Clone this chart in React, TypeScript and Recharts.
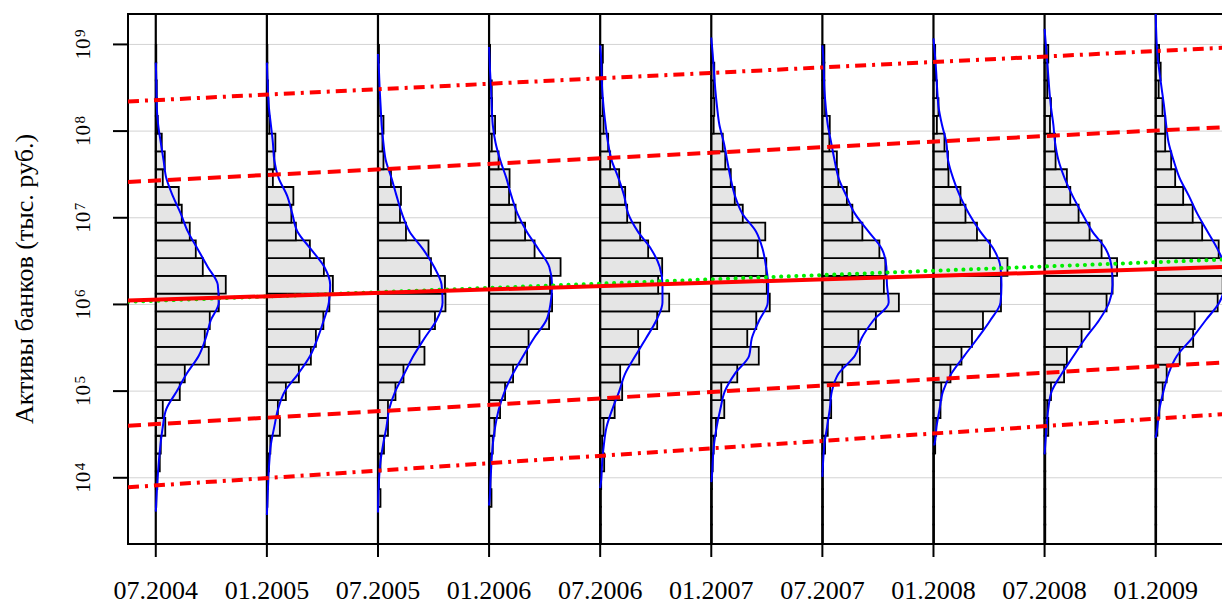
import {
  ComposedChart,
  Line,
  XAxis,
  YAxis,
  CartesianGrid,
  ReferenceArea,
  ReferenceLine,
} from 'recharts'

// dates of the cross-sections (x = index)
const dates = [
  '07.2004', '01.2005', '07.2005', '01.2006', '07.2006',
  '01.2007', '07.2007', '01.2008', '07.2008', '01.2009',
]
const logTicks = [4, 5, 6, 7, 8, 9]

// histogram bins in log10(assets), bottom edge of first bin and width
const binStart = 3.255
const binWidth = 0.205

// bar lengths per bin, bottom bin first (28 bins)
const hist0 = [0, 0, 0.5, 1.5, 4, 5, 9.5, 7, 24, 29, 53, 49, 54, 63, 70, 47, 40, 34, 26, 23, 7, 9, 6, 2, 1, 1, 0.5, 0.5]
const hist1 = [0, 0, 0.5, 1, 2, 3.5, 13, 11, 19, 32, 44, 49, 56.5, 62.5, 66, 57, 43, 29, 24.5, 26.5, 6, 7.5, 8.5, 2.5, 1.5, 1, 0.5, 0.5]
const hist2 = [0, 0, 2.5, 1, 2.5, 6, 10, 10, 17.5, 25.5, 46.5, 41.5, 57, 67.5, 67, 53, 50.5, 28, 22, 23, 13, 5.5, 4.5, 5.5, 0.7, 0.7, 0.7, 1]
const hist3 = [0, 0, 2.4, 1.4, 2, 3.7, 5.4, 11, 16, 24, 38, 39.5, 60, 63, 61, 71.5, 45.5, 36, 26.5, 20, 20.5, 9.5, 2.7, 6, 3, 2.7, 1, 1]
const hist4 = [0.7, 0.7, 0.7, 1, 4, 2, 3.4, 14.5, 22, 20, 39, 38, 57, 69, 58, 62, 48, 40, 27, 25, 19, 10, 8, 3.4, 2.7, 2, 2, 2.7]
const hist5 = [0.5, 0.5, 0.5, 0.7, 1.4, 2.4, 4.7, 13, 10, 26, 47.5, 36, 45, 58.5, 55.5, 55, 46.5, 54, 31.5, 23.5, 19.5, 14, 11.5, 2.4, 3, 2.4, 3, 0.7]
const hist6 = [0.5, 0.5, 0.5, 0.5, 0.7, 2.7, 5.4, 8.8, 7.8, 20, 37.5, 36, 53.5, 76.5, 61.5, 63, 57, 40, 30, 24.5, 16, 14.5, 7, 7.4, 2.7, 2, 2, 2]
const hist7 = [0.5, 0.5, 0.5, 0.5, 0.5, 1.7, 2.7, 7, 7.8, 17, 28, 38.5, 49.5, 67.5, 67.5, 74, 56.5, 43.5, 32, 27, 15, 14.5, 11, 3.4, 5, 3.4, 1.7, 1.7]
const hist8 = [0.7, 0.7, 0.7, 0.7, 0.7, 0.7, 3.7, 2.7, 6.4, 19.5, 22.3, 37, 45, 62, 68, 72.5, 57, 45, 34, 25.7, 22.3, 11, 10.5, 5.4, 6.4, 2.7, 2.7, 3.7]
const hist9 = [0.5, 0.5, 0.5, 0.5, 0.5, 0.5, 1.7, 3.7, 7, 11, 24, 37.5, 39, 62, 67, 72, 63, 46.5, 37, 27.5, 19.5, 15.5, 9.5, 9.5, 6.8, 3, 5, 3.4]
const histograms = [hist0, hist1, hist2, hist3, hist4, hist5, hist6, hist7, hist8, hist9]

// kernel density at bin centres, from bin 3 upwards (26 values)
const dens0 = [0.7, 1.7, 3, 4.7, 7, 10.5, 21, 31, 43, 50, 55, 63, 62, 52, 42, 32, 25, 17, 10.5, 7.8, 5, 2.4, 1, 0.7, 0.3, 0]
const dens1 = [0.7, 1.4, 2.4, 4, 7.4, 11.2, 18, 31.5, 43.3, 50.8, 56.9, 62, 63.3, 57.5, 44, 30.5, 25.4, 20.3, 11.8, 7.4, 6, 4, 2, 1, 0.3, 0]
const dens2 = [0.3, 1, 2.4, 5.1, 8.5, 11.2, 17.3, 26.4, 35.5, 46.7, 58.5, 64.6, 63.6, 56.2, 45, 31.5, 24, 18.6, 13.5, 7.8, 5.4, 3.7, 2.7, 1.7, 1, 0]
const dens3 = [0.7, 1.4, 2.4, 3.7, 6.1, 9.8, 15.6, 24, 34.2, 45, 57.2, 61.6, 63, 60.2, 49.4, 37.6, 28.4, 22.3, 17.3, 11.2, 6.4, 3.7, 2.7, 2, 1, 0.3]
const dens4 = [0, 1, 2, 3.7, 6.4, 12.2, 19, 25, 35.2, 46, 56.2, 62.3, 62.3, 59.6, 51, 37.6, 28, 24, 18.3, 11.5, 7.8, 5.4, 3.4, 2, 1.4, 0.7]
const dens5 = [0, 0.3, 1.4, 2.7, 5.4, 9.1, 13.5, 23.7, 37.9, 40.6, 48, 56.5, 56.9, 54.8, 51.4, 44.7, 31.1, 23.7, 19.3, 15.9, 12.5, 8.1, 5.8, 4, 2.7, 1.4]
const dens6 = [0, 0, 0.7, 2, 4.7, 7.4, 9.5, 16.2, 32.5, 39.3, 51.1, 66.3, 64.6, 64, 59.6, 46, 32.5, 24, 16.2, 12.2, 8.8, 5.4, 3.4, 2, 1.4, 0.7]
const dens7 = [0, 0, 0, 1, 3, 6.1, 9.5, 17.9, 30.8, 44.3, 56.9, 67, 68, 67, 60.2, 46.7, 35.5, 26.4, 19.6, 14.6, 12.9, 8.5, 5.1, 3.7, 2.7, 1.4]
const dens8 = [0, 0, 0, 0.7, 2, 3.7, 7.1, 17.3, 29.1, 41, 54.5, 64.6, 68, 67, 61.3, 47.7, 37.6, 28, 20, 13.9, 10.5, 8.8, 6.4, 4.7, 3.4, 2]
const dens9 = [0, 0, 0, 0, 1.7, 3.7, 7.8, 12.9, 21.3, 36.5, 50, 63.6, 68.7, 68.7, 61.9, 51.8, 41.6, 33.2, 24, 17.9, 12.9, 10.5, 8.5, 6.1, 3.7, 1.7]
const densities = [dens0, dens1, dens2, dens3, dens4, dens5, dens6, dens7, dens8, dens9]
const densTop = [8.79, 8.79, 8.89, 8.97, 8.99, 9.08, 8.99, 9.07, 9.18, 9.36]
const densBottom = [3.61, 3.57, 3.6, 3.68, 3.88, 3.95, 4.01, 4.38, 4.27, 4.46]

// trend lines (log10 at left and right edge)
const trendX = [-0.25, 9.75]
const median = [6.045, 6.437]
const meanTrend = [6.03, 6.525]
const upperQuartile = [7.414, 8.054]
const lowerQuartile = [4.601, 5.341]
const upperTail = [8.342, 8.97]
const lowerTail = [3.89, 4.746]

const X_DOMAIN: [number, number] = [-0.25, 9.75]
const Y_DOMAIN: [number, number] = [3.236, 9.351]
const BAR_SCALE = 1 / 111.1
const FONT = '"Liberation Serif", "Times New Roman", serif'

const trend = (vals: number[]) => trendX.map((x, i) => ({ x, y: vals[i] }))

function densityCurve(d: number) {
  const pts = [{ x: d, y: densTop[d] }]
  const vals = densities[d]
  for (let j = vals.length - 1; j >= 0; j--) {
    const y = binStart + (j + 2) * binWidth + binWidth / 2
    if (y < densTop[d] && y > densBottom[d]) pts.push({ x: d + vals[j] * BAR_SCALE, y })
  }
  pts.push({ x: d, y: densBottom[d] })
  return pts
}

function DateTick({ x, y, payload }: any) {
  return (
    <g>
      <line x1={x} x2={x} y1={y} y2={y + 13} stroke="#000" strokeWidth={2} />
      <text x={x} y={y + 55} textAnchor="middle" fontSize={26} fontFamily={FONT} fill="#000">
        {dates[payload.value]}
      </text>
    </g>
  )
}

function PowerTick({ x, y, payload }: any) {
  return (
    <g>
      <line x1={x - 15} x2={x} y1={y} y2={y} stroke="#000" strokeWidth={2} />
      <text transform={`translate(${x - 38},${y}) rotate(-90)`} textAnchor="middle" fontFamily={FONT} fill="#000">
        <tspan fontSize={21}>10</tspan>
        <tspan fontSize={15} dx={1.5} dy={-5}>{payload.value}</tspan>
      </text>
    </g>
  )
}

function AxisTitle({ viewBox }: any) {
  const cx = viewBox.x + 33
  const cy = viewBox.y + viewBox.height / 2
  return (
    <text x={cx} y={cy} transform={`rotate(-90, ${cx}, ${cy})`} textAnchor="middle" fontSize={26} fontFamily={FONT} fill="#000">
      Активы банков (тыс. руб.)
    </text>
  )
}

export default function App() {
  return (
    <div style={{ position: 'absolute', left: 0, top: 0, width: 1222, height: 605, overflow: 'hidden', background: '#fff' }}>
      <ComposedChart width={1240} height={605} margin={{ top: 14, right: 1, bottom: 0, left: 0 }}>
        <CartesianGrid vertical={false} stroke="#d3d3d3" strokeWidth={1} />
        <XAxis
          type="number"
          dataKey="x"
          domain={X_DOMAIN}
          ticks={dates.map((_, i) => i)}
          allowDataOverflow
          height={61}
          tickSize={0}
          tickMargin={0}
          tickLine={false}
          axisLine={false}
          tick={<DateTick />}
        />
        <YAxis
          type="number"
          dataKey="y"
          domain={Y_DOMAIN}
          ticks={logTicks}
          allowDataOverflow
          width={128}
          tickSize={0}
          tickMargin={0}
          tickLine={false}
          axisLine={false}
          tick={<PowerTick />}
          label={<AxisTitle />}
        />
        {histograms.flatMap((counts, d) =>
          counts.map((c, k) =>
            c > 0 ? (
              <ReferenceArea
                key={`h${d}-${k}`}
                x1={d}
                x2={d + c * BAR_SCALE}
                y1={binStart + k * binWidth}
                y2={binStart + (k + 1) * binWidth}
                fill="#e5e5e5"
                fillOpacity={1}
                stroke="#000"
                strokeWidth={1.8}
              />
            ) : null
          )
        )}
        {dates.map((_, d) => (
          <ReferenceLine key={`v${d}`} x={d} stroke="#000" strokeWidth={2.2} />
        ))}
        {dates.map((_, d) => (
          <Line
            key={`dens${d}`}
            data={densityCurve(d)}
            dataKey="y"
            type="monotoneY"
            stroke="#0000ff"
            strokeWidth={2}
            dot={false}
            isAnimationActive={false}
          />
        ))}
        <Line data={trend(meanTrend)} dataKey="y" stroke="#00ee00" strokeWidth={4} strokeDasharray="0.1 7.5" strokeLinecap="round" dot={false} isAnimationActive={false} />
        <Line data={trend(median)} dataKey="y" stroke="#ff0000" strokeWidth={4} dot={false} isAnimationActive={false} />
        <Line data={trend(upperQuartile)} dataKey="y" stroke="#ff0000" strokeWidth={4} strokeDasharray="13 7" dot={false} isAnimationActive={false} />
        <Line data={trend(lowerQuartile)} dataKey="y" stroke="#ff0000" strokeWidth={4} strokeDasharray="13 7" dot={false} isAnimationActive={false} />
        <Line data={trend(upperTail)} dataKey="y" stroke="#ff0000" strokeWidth={4} strokeDasharray="11 6 3 6" dot={false} isAnimationActive={false} />
        <Line data={trend(lowerTail)} dataKey="y" stroke="#ff0000" strokeWidth={4} strokeDasharray="11 6 3 6" dot={false} isAnimationActive={false} />
        <ReferenceArea
          x1={X_DOMAIN[0]}
          x2={X_DOMAIN[1]}
          y1={Y_DOMAIN[0]}
          y2={Y_DOMAIN[1]}
          fill="none"
          stroke="#000"
          strokeWidth={2}
        />
      </ComposedChart>
    </div>
  )
}
